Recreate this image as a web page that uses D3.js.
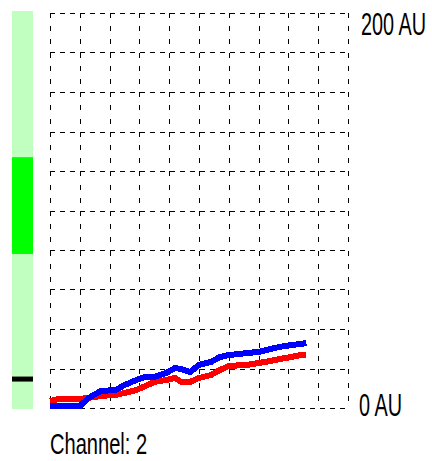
<!DOCTYPE html>
<html>
<head>
<meta charset="utf-8">
<script src="https://cdn.jsdelivr.net/npm/d3@7"></script>
<style>
html,body{margin:0;padding:0;background:#fff;}
svg{display:block;}
</style>
</head>
<body>
<svg id="chart" width="432" height="461"></svg>
<script>
// ---- data ----
const xValues   = [0,3,7,10,13,17,22,25,29,32,35,39,42,44,47,50,54,57,60,66,70,74,77,81,84,86];
const blueValues= [1.0,1.0,1.0,1.0,5.1,8.6,9.1,11.6,14.2,15.7,15.7,17.7,20.3,19.7,18.2,21.8,23.3,25.8,26.8,27.8,28.4,29.9,30.9,31.9,32.4,32.9];
const redValues = [3.5,4.6,4.6,4.6,5.1,6.1,6.6,7.6,9.1,11.1,13.2,14.2,15.2,13.2,13.2,15.2,16.7,19.2,21.3,21.8,22.8,23.8,24.8,25.8,26.8,26.8];
const yTickLabels = ["0 AU","200 AU"];
const channelLabel = "Channel: 2";
const bandRange = [78,127];   // highlighted level band (AU)
const markerValue = 14.4;     // black marker level (AU)

// ---- layout ----
const svg = d3.select("#chart");
const x = d3.scaleLinear().domain([0,100]).range([50,348]);
const y = d3.scaleLinear().domain([0,200]).range([408,13]);

// level bar
const barX = 12, barW = 21;
svg.append("rect").attr("x",barX).attr("y",y(200)-2).attr("width",barW).attr("height",y(0)-y(200)+3)
  .attr("fill","#c0ffc0");
svg.append("rect").attr("x",barX).attr("y",y(bandRange[1])).attr("width",barW)
  .attr("height",y(bandRange[0])-y(bandRange[1])).attr("fill","#00ff00");
svg.append("rect").attr("x",barX).attr("y",y(markerValue)-3).attr("width",barW).attr("height",5)
  .attr("fill","#000");

// grid
const g = svg.append("g").attr("shape-rendering","crispEdges");
const xt = d3.range(0,101,10), yt = d3.range(0,201,20);
g.selectAll("line.h").data(yt).join("line").attr("class","h")
  .attr("x1",x(0)).attr("x2",x(100)+1).attr("y1",d=>Math.round(y(d))+0.5).attr("y2",d=>Math.round(y(d))+0.5)
  .attr("stroke","#000").attr("stroke-width",1.3).attr("stroke-dasharray","5,5");
g.selectAll("line.v").data(xt).join("line").attr("class","v")
  .attr("y1",y(200)).attr("y2",y(0)+1).attr("x1",d=>Math.round(x(d))+0.5).attr("x2",d=>Math.round(x(d))+0.5)
  .attr("stroke","#000").attr("stroke-width",1.3).attr("stroke-dasharray","5,8.2");

// series
const line = d3.line().x((d,i)=>x(xValues[i])).y(d=>y(d));
svg.append("path").datum(redValues).attr("d",line).attr("fill","none")
  .attr("stroke","#ff0000").attr("stroke-width",6).attr("shape-rendering","crispEdges");
svg.append("path").datum(blueValues).attr("d",line).attr("fill","none")
  .attr("stroke","#0000ff").attr("stroke-width",6).attr("shape-rendering","crispEdges");

// texts
function txt(s, tx, ty, fs, sx){
  svg.append("text").attr("transform",`translate(${tx},${ty}) scale(${sx},1)`)
    .attr("font-family","Liberation Sans, Arial, sans-serif").attr("font-size",fs)
    .attr("fill","#000").text(s);
}
txt(yTickLabels[1], 361, y(200)+22, 32, 0.62);
txt(yTickLabels[0], 359, y(0)+8, 32, 0.62);
txt(channelLabel, 50, 454, 30, 0.67);
</script>
</body>
</html>
